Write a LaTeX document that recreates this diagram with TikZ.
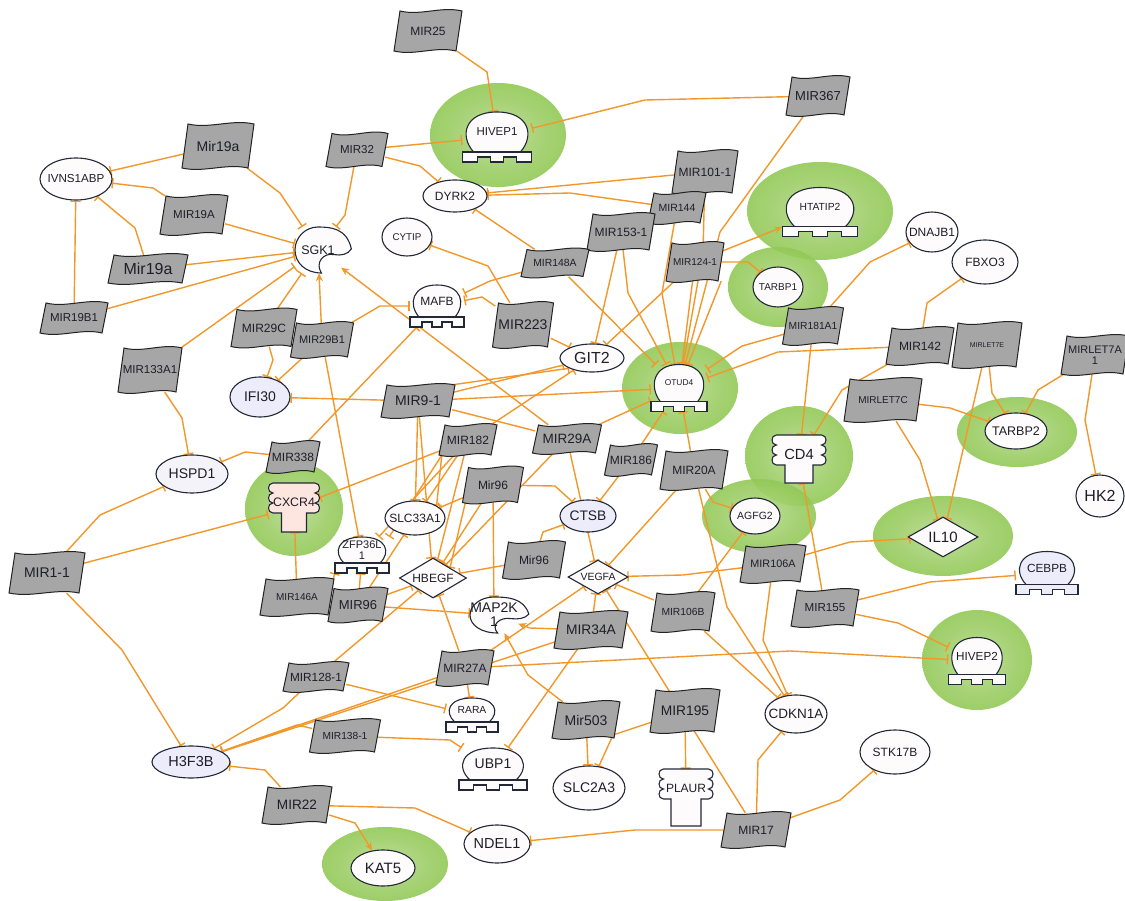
\documentclass[tikz,border=0pt]{standalone}
\usepackage{fontspec}
\setmainfont{Liberation Sans}
\usetikzlibrary{shapes.geometric,arrows.meta}

\definecolor{edgec}{RGB}{242,152,42}
\definecolor{mirfill}{RGB}{166,166,166}
\definecolor{mirline}{RGB}{35,35,35}
\definecolor{genefill}{RGB}{253,251,251}
\definecolor{genelav}{RGB}{236,236,250}
\definecolor{geneline}{RGB}{35,40,55}
\definecolor{halc}{RGB}{137,196,72}
\definecolor{pinkfill}{RGB}{253,229,224}
\definecolor{txt}{RGB}{30,30,40}

\pgfdeclarelayer{paper}
\pgfdeclarelayer{glow}
\pgfdeclarelayer{links}
\pgfsetlayers{paper,glow,links,main}

\pgfdeclareradialshading{glowshade}{\pgfpoint{0bp}{0bp}}{color(0bp)=(halc!60!white); color(16bp)=(halc!82!white); color(32bp)=(halc); color(43bp)=(halc!85!white); color(50bp)=(halc!25!white)}

\tikzset{
  mirshape/.style={fill=mirfill, draw=mirline, line width=1pt},
  mirlabel/.style={inner sep=0pt, text=txt, align=center},
  geneshape/.style={fill=genefill, draw=geneline, line width=1.1pt},
  gell/.style={ellipse, geneshape, inner sep=0pt, text=txt},
  gdia/.style={diamond, geneshape, inner sep=0pt, text=txt},
  inh/.style={draw=edgec, line width=1.4pt, -{Bar[width=10pt, line width=1.4pt]}},
  act/.style={draw=edgec, line width=1.4pt, -{Stealth[length=8pt, width=7pt]}},
  plainlink/.style={draw=edgec, line width=1.4pt}
}

\newcommand\lblsize[1]{\fontsize{#1}{#1}\selectfont}
\newcommand\ct[1]{\makebox[0pt][c]{#1}}

% microRNA: grey waving flag
\newcommand\drawmir[7]{%
 \begin{scope}[shift={(#2,#3)}]
  \filldraw[mirshape] ({-#4/2+3},{-#5/2}) .. controls ({-#4/6+3},{-#5/2+5}) and ({#4/6+3},{-#5/2-5}) .. ({#4/2+3},{-#5/2})
   -- ({#4/2-3},{#5/2}) .. controls ({#4/6-3},{#5/2-5}) and ({-#4/6-3},{#5/2+5}) .. ({-#4/2-3},{#5/2}) -- cycle;
 \end{scope}
 \node[mirlabel, minimum width=#4, minimum height=#5, font=\lblsize{#6}] (#1) at (#2,#3) {#7};
}

% transcription regulator: dome on a notched base
\newcommand\drawtreg[8][genefill]{%
 \begin{scope}[shift={(#3,#4)}]
  \filldraw[geneshape, fill=#1] ({-0.36*#5},{#6/2}) .. controls ({-0.58*#5},{0.1*#6}) and ({-0.5*#5},{-#6/2}) .. (0,{-#6/2})
    .. controls ({0.5*#5},{-#6/2}) and ({0.58*#5},{0.1*#6}) .. ({0.36*#5},{#6/2});
  \filldraw[geneshape, fill=#1] ({-#5/2-2},{#6/2}) -- ({#5/2+2},{#6/2}) -- ({#5/2+2},{#6/2+10}) -- ({0.3*#5},{#6/2+10})
    -- ({0.3*#5},{#6/2+5}) -- ({0.1*#5},{#6/2+5}) -- ({0.1*#5},{#6/2+10}) -- ({-0.1*#5},{#6/2+10})
    -- ({-0.1*#5},{#6/2+5}) -- ({-0.3*#5},{#6/2+5}) -- ({-0.3*#5},{#6/2+10}) -- ({-#5/2-2},{#6/2+10}) -- cycle;
 \end{scope}
 \node[inner sep=0pt, minimum width=#5+4, minimum height=#6+10] (#2) at (#3,{#4+5}) {};
 \node[mirlabel, font=\lblsize{#7}] (#2-t) at (#3,#4) {#8};
}

% receptor: lobed head on a stem
\newcommand\drawrcpt[9][genefill]{%
 \begin{scope}[shift={(#3,#4)}]
  \filldraw[geneshape, fill=#1] ({-#5/2},-15) -- ({#5/2},-15)
    .. controls ({#5/2+6},-15) and ({#5/2+6},-5) .. ({#5/2},-5)
    .. controls ({#5/2+6},-5) and ({#5/2+6},5) .. ({#5/2},5)
    .. controls ({#5/2+6},5) and ({#5/2+6},15) .. ({#5/2},15)
    -- ({#6/2},15) -- ({#6/2},{15+#7}) -- ({-#6/2},{15+#7}) -- ({-#6/2},15) -- ({-#5/2},15)
    .. controls ({-#5/2-6},15) and ({-#5/2-6},5) .. ({-#5/2},5)
    .. controls ({-#5/2-6},5) and ({-#5/2-6},-5) .. ({-#5/2},-5)
    .. controls ({-#5/2-6},-5) and ({-#5/2-6},-15) .. ({-#5/2},-15) -- cycle;
 \end{scope}
 \node[inner sep=0pt, minimum width=#5+9, minimum height=30+#7] (#2) at (#3,{#4+#7/2}) {};
 \node[mirlabel, font=\lblsize{#8}] (#2-t) at (#3,{#4+4}) {#9};
}

% kinase: crescent
\newcommand\drawkin[7]{%
 \begin{scope}[shift={(#2,#3)}]
  \filldraw[geneshape] ({1.45*#4},{-0.05*#5}) .. controls ({1.25*#4},{-0.95*#5}) and ({0.55*#4},{-#5}) .. (0,{-#5})
   .. controls ({-0.55*#4},{-#5}) and ({-#4},{-0.55*#5}) .. ({-#4},0)
   .. controls ({-#4},{0.55*#5}) and ({-0.55*#4},{#5}) .. ({0.15*#4},{#5})
   .. controls ({-0.15*#4},{0.55*#5}) and ({0.25*#4},{0.1*#5}) .. ({0.7*#4},{0.2*#5})
   .. controls ({1.0*#4},{0.25*#5}) and ({1.3*#4},{0.2*#5}) .. ({1.45*#4},{-0.05*#5}) -- cycle;
 \end{scope}
 \node[mirlabel, minimum width=2*#4, minimum height=2*#5, font=\lblsize{#6}] (#1) at (#2,#3) {#7};
}

% soft green glow
\newcommand\drawglow[4]{\shade[shading=glowshade, opacity=0.9] (#1,#2) ellipse ({#3pt} and {#4pt});}

\begin{document}
\begin{tikzpicture}[x=1pt,y=-1pt]
\begin{pgfonlayer}{paper}
\fill[white] (0,0) rectangle (1125,901);
\end{pgfonlayer}
\path[use as bounding box] (0,0) rectangle (1125,901);

\begin{pgfonlayer}{glow}
\drawglow{498}{135}{68}{52}
\drawglow{820}{211}{73}{49}
\drawglow{778}{287}{50}{40}
\drawglow{680}{388}{58}{46}
\drawglow{799}{456}{54}{50}
\drawglow{759}{516}{57}{37}
\drawglow{1017}{432}{60}{35}
\drawglow{943}{536}{70}{40}
\drawglow{977}{660}{55}{50}
\drawglow{294}{509}{49}{47}
\drawglow{385}{864}{63}{37}
\end{pgfonlayer}

% ---------- microRNAs ----------
\drawmir{mir25}{428}{31}{62}{40}{12}{MIR25}
\drawmir{mir367}{818}{96}{58}{38}{13}{MIR367}
\drawmir{mir19aT}{218}{146}{66}{44}{14}{Mir19a}
\drawmir{mir32}{357}{150}{56}{33}{11.5}{MIR32}
\drawmir{mir19A}{194}{215}{62}{38}{11.5}{MIR19A}
\drawmir{mir19aL}{148}{269}{74}{28}{16}{Mir19a}
\drawmir{mir101}{705}{172}{60}{42}{12}{MIR101-1}
\drawmir{mir144}{677}{208}{52}{30}{10.5}{MIR144}
\drawmir{mir153}{621}{232}{62}{36}{12}{MIR153-1}
\drawmir{mir148a}{555}{263}{62}{27}{10.4}{MIR148A}
\drawmir{mir124}{695}{262}{52}{38}{10}{MIR124-1}
\drawmir{mir223}{523}{325}{55}{44}{14}{MIR223}
\drawmir{mir19b1}{74}{318}{62}{30}{11.5}{MIR19B1}
\drawmir{mir29c}{264}{328}{60}{37}{12}{MIR29C}
\drawmir{mir29b1}{322}{340}{57}{34}{11}{MIR29B1}
\drawmir{mir133}{150}{370}{58}{44}{11.5}{MIR133A1}
\drawmir{mir181}{813}{326}{55}{36}{10.3}{MIR181A1}
\drawmir{mir142}{920}{346}{62}{36}{12}{MIR142}
\drawmir{mirlet7e}{987}{345}{64}{44}{7}{MIRLET7E}
\drawmir{mirlet7a}{1095}{355}{62}{38}{11}{MIRLET7A\\1}
\drawmir{mirlet7c}{883}{400}{72}{42}{10}{MIRLET7C}
\drawmir{mir91}{418}{401}{68}{32}{14}{MIR9-1}
\drawmir{mir182}{468}{440}{52}{30}{12}{MIR182}
\drawmir{mir29a}{567}{439}{63}{28}{13.5}{MIR29A}
\drawmir{mir338}{293}{457}{48}{30}{12}{MIR338}
\drawmir{mir186}{631}{460}{47}{30}{12}{MIR186}
\drawmir{mir20a}{694}{470}{62}{38}{12}{MIR20A}
\drawmir{mir96a}{493}{485}{55}{35}{12}{Mir96}
\drawmir{mir96b}{534}{560}{57}{36}{12}{Mir96}
\drawmir{mir11}{47}{573}{70}{40}{14}{MIR1-1}
\drawmir{mir146}{297}{597}{68}{36}{10}{MIR146A}
\drawmir{mir96c}{358}{605}{54}{33}{13}{MIR96}
\drawmir{mir106a}{773}{564}{60}{36}{10.8}{MIR106A}
\drawmir{mir106b}{683}{612}{58}{38}{10.3}{MIR106B}
\drawmir{mir155}{825}{608}{62}{36}{11.6}{MIR155}
\drawmir{mir34a}{591}{630}{68}{36}{13.8}{MIR34A}
\drawmir{mir27a}{465}{668}{52}{34}{12}{MIR27A}
\drawmir{mir128}{316}{677}{60}{28}{11.8}{MIR128-1}
\drawmir{mir138}{345}{736}{65}{32}{10.2}{MIR138-1}
\drawmir{mir503}{586}{720}{62}{36}{14}{Mir503}
\drawmir{mir195}{685}{711}{64}{42}{13.8}{MIR195}
\drawmir{mir22}{297}{805}{64}{36}{13.6}{MIR22}
\drawmir{mir17}{756}{830}{64}{34}{12}{MIR17}

% ---------- target genes ----------
\node[gell, minimum width=72, minimum height=42, font=\lblsize{11.6}] (ivns) at (76,179) {\ct{IVNS1ABP}};
\node[gell, minimum width=64, minimum height=32, font=\lblsize{12}] (dyrk2) at (455,196) {\ct{DYRK2}};
\node[gell, minimum width=50, minimum height=38, font=\lblsize{9.8}] (cytip) at (407,237) {\ct{CYTIP}};
\node[gell, minimum width=50, minimum height=40, font=\lblsize{10}] (tarbp1) at (778,287) {\ct{TARBP1}};
\node[gell, minimum width=52, minimum height=40, font=\lblsize{12}] (dnajb1) at (932,232) {\ct{DNAJB1}};
\node[gell, minimum width=66, minimum height=44, font=\lblsize{12}] (fbxo3) at (985,262) {\ct{FBXO3}};
\node[gell, minimum width=64, minimum height=28, font=\lblsize{16}] (git2) at (592,358) {\ct{GIT2}};
\node[gell, fill=genelav, minimum width=60, minimum height=40, font=\lblsize{14}] (ifi30) at (260,397) {\ct{IFI30}};
\node[gell, minimum width=62, minimum height=36, font=\lblsize{12.5}] (tarbp2) at (1016,431) {\ct{TARBP2}};
\node[gell, fill=genelav!50!genefill, minimum width=72, minimum height=38, font=\lblsize{14}] (hspd1) at (192,474) {\ct{HSPD1}};
\node[gell, minimum width=60, minimum height=34, font=\lblsize{12}] (slc33) at (415,518) {\ct{SLC33A1}};
\node[gell, fill=genelav, minimum width=56, minimum height=32, font=\lblsize{13.8}] (ctsb) at (588,516) {\ct{CTSB}};
\node[gell, minimum width=50, minimum height=36, font=\lblsize{10.5}] (agfg2) at (755,516) {\ct{AGFG2}};
\node[gell, minimum width=48, minimum height=42, font=\lblsize{16}] (hk2) at (1100,496) {\ct{HK2}};
\node[gell, minimum width=62, minimum height=38, font=\lblsize{13.5}] (cdkn1a) at (796,714) {\ct{CDKN1A}};
\node[gell, minimum width=70, minimum height=44, font=\lblsize{12}] (stk17b) at (895,752) {\ct{STK17B}};
\node[gell, fill=genelav, minimum width=78, minimum height=32, font=\lblsize{14.5}] (h3f3b) at (191,762) {\ct{H3F3B}};
\node[gell, minimum width=72, minimum height=44, font=\lblsize{14}] (slc2a3) at (589,788) {\ct{SLC2A3}};
\node[gell, minimum width=66, minimum height=38, font=\lblsize{14.5}] (ndel1) at (497,844) {\ct{NDEL1}};
\node[gell, minimum width=64, minimum height=36, font=\lblsize{15}] (kat5) at (383,868) {\ct{KAT5}};

\node[gdia, minimum width=67, minimum height=40, font=\lblsize{12}] (hbegf) at (433,578) {\ct{HBEGF}};
\node[gdia, minimum width=60, minimum height=34, font=\lblsize{10.5}] (vegfa) at (598,577) {\ct{VEGFA}};
\node[gdia, minimum width=70, minimum height=40, font=\lblsize{15}] (il10) at (943,537) {\ct{IL10}};

\drawtreg{hivep1}{497}{132}{65}{40}{11.5}{HIVEP1}
\drawtreg{htatip2}{820}{207}{71}{39}{10.3}{HTATIP2}
\drawtreg{mafb}{437}{301}{50}{32}{12}{MAFB}
\drawtreg{otud4}{679}{383}{52}{37}{8.4}{OTUD4}
\drawtreg{zfp36}{362}{550}{50}{26}{11}{ZFP36L\\1}
\drawtreg{rara}{472}{710}{48}{24}{10.3}{RARA}
\drawtreg{ubp1}{493}{764}{64}{32}{14}{UBP1}
\drawtreg[genelav]{cebpb}{1047}{568}{58}{33}{11.8}{CEBPB}
\drawtreg{hivep2}{977}{656}{53}{37}{11.7}{HIVEP2}

\drawrcpt{cd4}{799}{450}{45}{28}{18}{14.7}{CD4}
\drawrcpt[pinkfill]{cxcr4}{294}{498}{42}{25}{19}{12.3}{CXCR4}
\drawrcpt{plaur}{686}{784}{45}{30}{27}{12}{PLAUR}

\drawkin{sgk1}{318}{250}{23}{23}{12.5}{SGK1}
\drawkin{map2k1}{494}{615}{24}{18}{14}{MAP2K\\1}

% ---------- interactions ----------
\begin{pgfonlayer}{links}
\draw[inh] (mir25) -- (487,72) -- (hivep1);
\draw[inh] (mir367) -- (645,100) -- (hivep1);
\draw[inh] (mir32) -- (hivep1);
\draw[inh] (mir32) -- (420,166) -- (dyrk2);
\draw[inh] (mir32) -- (345,215) -- (sgk1);
\draw[inh] (mir19aT) -- (ivns);
\draw[inh] (mir19aT) -- (280,193) -- (sgk1);
\draw[inh] (mir19A) -- (153,188) -- (ivns);
\draw[inh] (mir19A) -- (sgk1);
\draw[inh] (mir19aL) -- (135,228) -- (ivns);
\draw[inh] (mir19aL) -- (sgk1);
\draw[inh] (mir19b1) -- (ivns);
\draw[inh] (mir19b1) -- (sgk1);
\draw[inh] (mir133) -- (sgk1);
\draw[inh] (mir133) -- (182,418) -- (hspd1);
\draw[inh] (mir29c) -- (sgk1);
\draw[inh] (mir29c) -- (273,360) -- (ifi30);
\draw[inh] (mir29b1) -- (ifi30);
\draw[act] (mir29b1) -- (sgk1);
\draw[inh] (mir29b1) -- (zfp36);
\draw[inh] (mir29b1) -- (380,306) -- (mafb);
\draw[inh] (mir148a) -- (490,281) -- (mafb);
\draw[inh] (mir148a) -- (dyrk2);
\draw[inh] (mir148a) -- (otud4);
\draw[inh] (mir223) -- (482,297) -- (mafb);
\draw[inh] (mir223) -- (488,266) -- (cytip);
\draw[inh] (mir223) -- (git2);
\draw[inh] (mir153) -- (git2);
\draw[inh] (mir153) -- (628,293) -- (otud4);
\draw[inh] (mir144) -- (662,293) -- (otud4);
\draw[inh] (mir101) -- (703,253) -- (otud4);
\draw[inh] (mir124) -- (otud4);
\draw[inh] (mir124.south east) -- ([xshift=9pt]otud4.north);
\draw[inh] (mir124) -- (git2);
\draw[act] (mir124) -- (htatip2);
\draw[inh] (mir124) -- (748,262) -- (tarbp1);
\draw[inh] (mir367) -- (720,232) -- (otud4);
\draw[inh] (mir101) -- (dyrk2);
\draw[inh] (mir144) -- (570,193) -- (dyrk2);
\draw[inh] (mir181) -- (742,346) -- (otud4);
\draw[inh] (mir181) -- (870,262) -- (dnajb1);
\draw[inh] (mir181) -- (cd4);
\draw[inh] (mir142) -- (778,352) -- (otud4);
\draw[inh] (mir142) -- (927,303) -- (fbxo3);
\draw[inh] (mir142) -- (842,390) -- (cd4);
\draw[inh] (mirlet7c) -- (950,408) -- (tarbp2);
\draw[inh] (mirlet7c) -- (920,460) -- (il10);
\draw[inh] (mirlet7e) -- (992,393) -- (tarbp2);
\draw[inh] (mirlet7e) -- (il10);
\draw[inh] (mirlet7a) -- (1038,390) -- (tarbp2);
\draw[inh] (mirlet7a) -- (1085,420) -- (hk2);
\draw[inh] (mir106a) -- (850,542) -- (il10);
\draw[inh] (mir106a) -- (683,575) -- (vegfa);
\draw[inh] (mir106a) -- (763,640) -- (cdkn1a);
\draw[inh] (mir106b) -- (agfg2);
\draw[inh] (mir106b) -- (vegfa);
\draw[inh] (mir106b) -- (cdkn1a);
\draw[inh] (mir20a) -- (713,502) -- (agfg2);
\draw[inh] (mir20a) -- (vegfa);
\draw[inh] (mir20a) -- (727,607) -- (cdkn1a);
\draw[inh] (mir20a) -- (otud4);
\draw[inh] (mir155) -- (cd4);
\draw[inh] (mir155) -- (930,582) -- (cebpb);
\draw[inh] (mir155) -- (898,623) -- (hivep2);
\draw[inh] (mir27a) -- (790,651) -- (hivep2);
\draw[inh] (mir186) -- (otud4);
\draw[inh] (mir186) -- (ctsb);
\draw[inh] (mir29a) -- (otud4);
\draw[act] (mir29a) -- (sgk1);
\draw[inh] (mir29a) -- (vegfa);
\draw[inh] (mir29a) -- (hbegf);
\draw[inh] (mir91) -- (ifi30);
\draw[inh] (mir91) -- (git2);
\draw[inh] (mir91.north east) -- (git2.south west);
\draw[inh] (mir91) -- (otud4);
\draw[inh] (mir91) -- (slc33);
\draw[inh] (mir91) -- (hbegf);
\draw[plainlink] (mir91) -- (mir29a);
\draw[inh] (mir182) -- (cxcr4);
\draw[inh] (mir182) -- (git2);
\draw[inh] (mir182) -- (slc33);
\draw[inh] (mir182.south west) -- (slc33.north east);
\draw[inh] (mir182) -- (zfp36);
\draw[inh] (mir182.south west) -- (zfp36.north east);
\draw[inh] (mir182) -- (hbegf);
\draw[inh] (mir96a) -- (slc33);
\draw[inh] (mir96a) -- (555,486) -- (ctsb);
\draw[inh] (mir96a) -- (hbegf);
\draw[inh] (mir96a.south west) -- (hbegf.north east);
\draw[inh] (mir96a) -- (map2k1);
\draw[inh] (mir96b) -- (hbegf);
\draw[inh] (mir96b) -- (543,532) -- (ctsb);
\draw[inh] (mir96c) -- (hbegf);
\draw[inh] (mir96c) -- (map2k1);
\draw[inh] (mir96c) -- (zfp36);
\draw[inh] (mir96c.north west) -- (zfp36.south west);
\draw[inh] (mir96c) -- (slc33);
\draw[inh] (mir146) -- (cxcr4);
\draw[inh] (mir338) -- (245,452) -- (hspd1);
\draw[inh] (mir338) -- (mafb);
\draw[inh] (mir11) -- (100,515) -- (hspd1);
\draw[inh] (mir11) -- (cxcr4);
\draw[inh] (mir11) -- (122,650) -- (h3f3b);
\draw[inh] (mir128) -- (283,708) -- (h3f3b);
\draw[inh] (mir128) -- (rara);
\draw[inh] (mir128) -- (hbegf);
\draw[inh] (mir27a) -- (h3f3b);
\draw[inh] (mir27a) -- (rara);
\draw[inh] (mir27a) -- (hbegf);
\draw[inh] (mir27a) -- (vegfa);
\draw[inh] (mir138) -- (297,725) -- (h3f3b);
\draw[inh] (mir138) -- (450,740) -- (ubp1);
\draw[inh] (mir22) -- (265,770) -- (h3f3b);
\draw[inh] (mir22) -- (415,808) -- (ndel1);
\draw[act] (mir22) -- (355,823) -- (kat5);
\draw[inh] (mir17) -- (635,830) -- (ndel1);
\draw[inh] (mir17) -- (840,800) -- (stk17b);
\draw[inh] (mir17) -- (758,760) -- (cdkn1a);
\draw[inh] (mir17) -- (vegfa);
\draw[inh] (mir195) -- (plaur);
\draw[inh] (mir195) -- (613,735) -- (slc2a3);
\draw[inh] (mir503) -- (slc2a3);
\draw[act] (mir503) -- (528,675) -- (map2k1);
\draw[act] (mir34a) -- (530,628) -- (map2k1);
\draw[inh] (mir34a) -- (ubp1);
\draw[inh] (mir34a) -- (vegfa);
\draw[inh] (mir34a) -- (h3f3b);
\end{pgfonlayer}
\end{tikzpicture}
\end{document}
